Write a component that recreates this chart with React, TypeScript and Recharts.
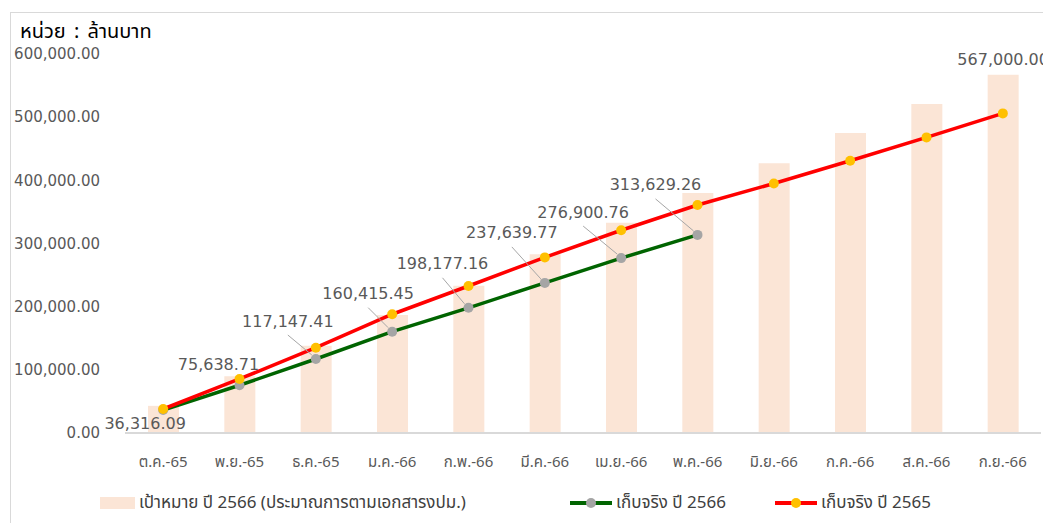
import { ComposedChart, Bar, Line, XAxis, YAxis, LabelList } from 'recharts';

const months = ['ต.ค.-65', 'พ.ย.-65', 'ธ.ค.-65', 'ม.ค.-66', 'ก.พ.-66', 'มี.ค.-66', 'เม.ย.-66', 'พ.ค.-66', 'มิ.ย.-66', 'ก.ค.-66', 'ส.ค.-66', 'ก.ย.-66'];
const target2566 = [43000, 90000, 138000, 187000, 233000, 283000, 333000, 380000, 427000, 475000, 521000, 567000];
const actual2566 = [36316.09, 75638.71, 117147.41, 160415.45, 198177.16, 237639.77, 276900.76, 313629.26, null, null, null, null];
const actual2565 = [38000, 85500, 135000, 188000, 232700, 278000, 321000, 361000, 395000, 431000, 468000, 506000];
const yTicks = [0, 100000, 200000, 300000, 400000, 500000, 600000];

const seriesNames = {
    target: 'เป้าหมาย ปี 2566 (ประมาณการตามเอกสารงปม.)',
    actual66: 'เก็บจริง ปี 2566',
    actual65: 'เก็บจริง ปี 2565',
};

// where each green label sits relative to its point (leader line from index 2 on)
const labelOffsets = [[-18, 13], [-21, -21], [-28, -38], [-24, -38], [-26, -44], [-33, -50], [-38, -46], [-42, -50]];

const NUM_FONT = '"DejaVu Sans", Verdana, sans-serif';
const THAI_FONT = '"Noto Sans Thai", "Leelawadee UI", Tahoma, "DejaVu Sans", sans-serif';

const fmt = (v: number) => v.toLocaleString('en-US', { minimumFractionDigits: 2, maximumFractionDigits: 2 });

const data = months.map((m, i) => ({
    month: m,
    target: target2566[i],
    actual66: actual2566[i],
    actual65: actual2565[i],
}));

function GreenLabel(props: any) {
    const { x, y, value, index } = props;
    if (value == null) return null;
    const [dx, dy] = labelOffsets[index] || [-34, -48];
    const cx = x + dx;
    const cy = y + dy;
    return (
        <g>
            {index >= 2 && (
                <line x1={cx} y1={cy + 14} x2={x - 4} y2={y - 4} stroke="#A6A6A6" strokeWidth={1} />
            )}
            <text x={cx} y={cy} textAnchor="middle" dominantBaseline="central" fill="#595959" fontSize={16} fontFamily={NUM_FONT}>
                {fmt(value)}
            </text>
        </g>
    );
}

function TargetLabel(props: any) {
    const { x, y, width, value, index } = props;
    if (index !== target2566.length - 1) return null;
    return (
        <text x={x + width / 2} y={y - 10} textAnchor="middle" fill="#595959" fontSize={16} fontFamily={NUM_FONT}>
            {fmt(value)}
        </text>
    );
}

function ChartLegend() {
    const item = { display: 'flex', alignItems: 'center', position: 'absolute' as const, top: 0 };
    const text = { fontSize: 17, color: '#404040', fontFamily: THAI_FONT, marginLeft: 4 };
    return (
        <div style={{ position: 'absolute', left: 0, top: 482, height: 26, width: 1043 }}>
            <div style={{ ...item, left: 92 }}>
                <span style={{ width: 35, height: 12, background: '#FBE5D6', display: 'inline-block' }} />
                <span style={text}>{seriesNames.target}</span>
            </div>
            <div style={{ ...item, left: 562 }}>
                <svg width={42} height={12}>
                    <line x1={0} y1={6} x2={42} y2={6} stroke="#006400" strokeWidth={4} />
                    <circle cx={21} cy={6} r={5} fill="#A5A5A5" />
                </svg>
                <span style={text}>{seriesNames.actual66}</span>
            </div>
            <div style={{ ...item, left: 767 }}>
                <svg width={42} height={12}>
                    <line x1={0} y1={6} x2={42} y2={6} stroke="#FF0000" strokeWidth={4} />
                    <circle cx={21} cy={6} r={5} fill="#FFC000" />
                </svg>
                <span style={text}>{seriesNames.actual65}</span>
            </div>
        </div>
    );
}

export default function App() {
    return (
        <div style={{ position: 'relative', width: 1043, height: 515, background: '#fff' }}>
            <div style={{ position: 'absolute', left: 2, top: 4, width: 1041, height: 511, borderLeft: '1px solid #D9D9D9', borderTop: '1px solid #D9D9D9' }} />
            <div style={{ position: 'absolute', left: 12, top: 9, fontSize: 20, wordSpacing: 3, fontFamily: THAI_FONT, color: '#000' }}>
                หน่วย : ล้านบาท
            </div>
            <div style={{ position: 'absolute', left: 0, top: 0 }}>
                <ComposedChart width={1043} height={515} data={data} margin={{ top: 46, right: 10, bottom: 10, left: 17 }}>
                    <XAxis
                        dataKey="month"
                        axisLine={{ stroke: '#D9D9D9', strokeWidth: 2 }}
                        tickLine={false}
                        tickSize={0}
                        tickMargin={23}
                        height={80}
                        interval={0}
                        tick={{ fill: '#595959', fontSize: 15, fontFamily: THAI_FONT }}
                    />
                    <YAxis
                        width={100}
                        domain={[0, 600000]}
                        ticks={yTicks}
                        axisLine={false}
                        tickLine={false}
                        tickSize={0}
                        tickMargin={25}
                        tickFormatter={fmt}
                        tick={{ fill: '#595959', fontSize: 15, fontFamily: NUM_FONT }}
                    />
                    <Bar dataKey="target" name={seriesNames.target} fill="#FBE5D6" barSize={31} isAnimationActive={false}>
                        <LabelList dataKey="target" content={TargetLabel} />
                    </Bar>
                    <Line
                        dataKey="actual66"
                        name={seriesNames.actual66}
                        stroke="#006400"
                        strokeWidth={3.5}
                        dot={{ r: 5, fill: '#A5A5A5', stroke: 'none' }}
                        activeDot={false}
                        isAnimationActive={false}
                    >
                        <LabelList dataKey="actual66" content={GreenLabel} />
                    </Line>
                    <Line
                        dataKey="actual65"
                        name={seriesNames.actual65}
                        stroke="#FF0000"
                        strokeWidth={3.5}
                        dot={{ r: 5, fill: '#FFC000', stroke: 'none' }}
                        activeDot={false}
                        isAnimationActive={false}
                    />
                </ComposedChart>
            </div>
            <ChartLegend />
        </div>
    );
}
